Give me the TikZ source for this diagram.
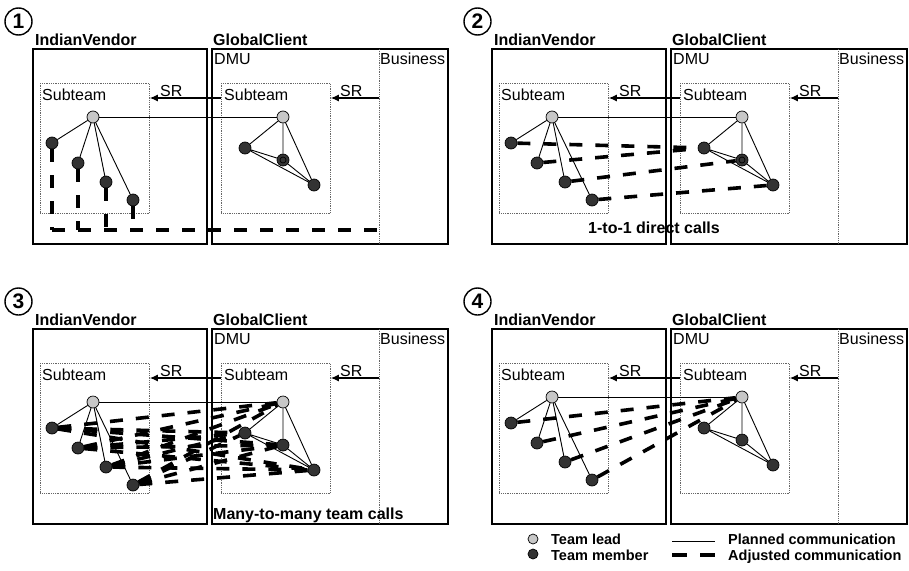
\documentclass[tikz,border=0pt]{standalone}
\usepackage{fontspec}
\setmainfont{Liberation Sans}
\usetikzlibrary{arrows.meta}

\tikzset{
  lead/.style={circle, draw, fill=black!22, minimum size=12pt, inner sep=0pt, line width=0.7pt},
  member/.style={circle, draw, fill=black!80, minimum size=12pt, inner sep=0pt, line width=0.7pt},
  planned/.style={line width=0.9pt},
  adjusted/.style={line width=3.6pt, dash pattern=on 13pt off 13pt},
  org/.style={draw, line width=1.4pt},
  divider/.style={draw=black!60, densely dotted, line width=0.8pt},
  subteam/.style={divider, minimum width=109pt, minimum height=130pt, anchor=north west, inner sep=0pt},
  sr/.style={-{Latex[length=8pt,width=7pt]}, line width=1.2pt},
  lbl/.style={anchor=base west, inner sep=0pt, font=\fontsize{16}{19}\selectfont},
  boldlbl/.style={lbl, font=\fontsize{16}{19}\selectfont\bfseries},
  keylbl/.style={lbl, font=\fontsize{14.5}{15}\selectfont\bfseries},
  num/.style={circle, draw, line width=1.4pt, minimum size=27pt, inner sep=0pt, font=\fontsize{21}{21}\selectfont\bfseries},
}

% one panel: #1 number, #2/#3 shift, #4 extra drop of the team
\newcommand{\teampanel}[4]{%
  \begin{scope}[shift={(#2,#3)}]
    \node[num] (num#1) at (18.5,21.5) {#1};
    % vendor and client
    \draw[org] (33,49) rectangle (207,244);
    \draw[org] (212,49) rectangle (448,244);
    \draw[divider] (379,49) -- (379,244);
    \node[boldlbl] (vname#1) at (35,45) {IndianVendor};
    \node[boldlbl] (cname#1) at (213,45) {GlobalClient};
    \node[lbl] (dmu#1) at (214,64) {DMU};
    \node[lbl] (bus#1) at (380,64) {Business};
    % subteams, service requests
    \node[subteam] (vsub#1) at (40,83) {};
    \node[subteam] (csub#1) at (221,83) {};
    \node[lbl] (vsubname#1) at (42,100) {Subteam};
    \node[lbl] (csubname#1) at (224,100) {Subteam};
    \coordinate (biz#1) at (379,98);
    \draw[sr] ([yshift=-15pt]csub#1.north west) -- ([yshift=-15pt]vsub#1.north east);
    \draw[sr] (biz#1) -- ([yshift=-15pt]csub#1.north east);
    \node[lbl] (vsr#1) at (160,96) {SR};
    \node[lbl] (csr#1) at (340,96) {SR};
    % the teams
    \node[lead] (vl#1) at (93,117+#4) {};
    \node[lead] (cl#1) at (283,117+#4) {};
    \foreach \i/\x/\y in {1/52/143, 2/78/163, 3/106/182, 4/133/200} {
      \node[member] (v#1-\i) at (\x,\y+#4) {};
      \draw[planned] (vl#1) -- (v#1-\i);
    }
    \foreach \i/\x/\y in {1/245/148, 2/283/160, 3/314/185}
      \node[member] (c#1-\i) at (\x,\y+#4) {};
    \draw[planned] (vl#1) -- (cl#1);
    \draw[planned] (cl#1) -- (c#1-1) (cl#1) -- (c#1-2) (cl#1) -- (c#1-3)
      (c#1-1) -- (c#1-2) -- (c#1-3) -- (c#1-1);
  \end{scope}}

\begin{document}
\begin{tikzpicture}[x=1pt,y=-1pt]
\useasboundingbox (0,0) rectangle (909,570);

\teampanel{1}{0}{0}{0}
\teampanel{2}{459}{0}{0}
\teampanel{3}{0}{280}{5}
\teampanel{4}{459}{280}{0}

% 1: everything goes through the business
\coordinate (low1) at (52,230);
\coordinate (lowbiz1) at (379,230);
\foreach \i in {1,...,4}
  \draw[adjusted] (v1-\i) -- (v1-\i |- low1);
\draw[adjusted] (low1) -- (lowbiz1);
\draw[line width=0.7pt] (c1-2) circle (3pt);

% 2: one to one
\draw[adjusted] (v2-1) -- (c2-1);
\draw[adjusted] (v2-2) -- (c2-1);
\draw[adjusted] (v2-3) -- (c2-2);
\draw[adjusted] (v2-4) -- (c2-3);
\draw[line width=0.7pt] (c2-2) circle (3pt);
\node[boldlbl] (direct) at (588,233) {1-to-1 direct calls};

% 3: many to many
\foreach \i in {1,...,4}
  \foreach \j in {cl3,c3-1,c3-2,c3-3}
    \draw[adjusted] (v3-\i) -- (\j);
\node[boldlbl] (team) at (213,519) {Many-to-many team calls};

% 4: all to the client lead
\foreach \i in {1,...,4}
  \draw[adjusted] (v4-\i) -- (cl4);

% key
\node[lead, minimum size=10pt] (keylead) at (533,539) {};
\node[member, minimum size=10pt] (keymember) at (533,554) {};
\node[keylbl] (keyleadname) at (551,544) {Team lead};
\node[keylbl] (keymembername) at (551,560) {Team member};
\coordinate (plana) at (672,541);
\coordinate (planb) at (715,541);
\draw[planned] (plana) -- (planb);
\coordinate (adja) at (672,555);
\coordinate (adjb) at (715,555);
\draw[adjusted, dash pattern=on 15pt off 13pt] (adja) -- (adjb);
\node[keylbl] (keyplan) at (728,544) {Planned communication};
\node[keylbl] (keyadj) at (728,560) {Adjusted communication};

\end{tikzpicture}
\end{document}
